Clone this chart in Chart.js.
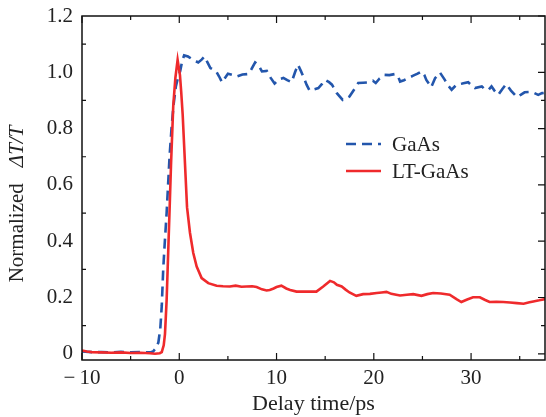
<!DOCTYPE html>
<html>
<head>
<meta charset="utf-8">
<script src="https://cdn.jsdelivr.net/npm/chart.js@4/dist/chart.umd.min.js"></script>
<style>
  body { margin: 0; background: #fff; }
</style>
</head>
<body>
<canvas id="c" width="546" height="417"></canvas>
<script>
// GaAs (dashed blue)
const gaasX = [-10, -9, -8, -7, -6, -5, -4, -3, -2.7, -2.4, -2.15, -1.95, -1.8, -1.65, -1.5, -1.3, -1.15, -1.0, -0.8, -0.6, -0.35, -0.1, 0.1, 0.3, 0.5, 0.9, 1.4, 1.95, 2.3, 2.6, 2.9, 3.2, 3.8, 4.1, 4.4, 4.7, 5.0, 5.5, 5.9, 6.5, 7.1, 7.4, 7.8, 8.1, 8.5, 9.0, 9.4, 9.8, 10.3, 10.7, 11.1, 11.55, 11.9, 12.2, 12.5, 12.75, 13.1, 13.4, 13.9, 14.3, 14.7, 15.0, 15.4, 15.7, 16.2, 16.8, 17.2, 17.5, 18.0, 18.4, 18.9, 19.3, 19.9, 20.2, 20.6, 21.1, 21.6, 22.2, 22.5, 22.7, 23.1, 23.5, 24.05, 24.5, 24.9, 25.2, 25.4, 25.9, 26.3, 26.8, 27.3, 27.6, 28.0, 28.5, 29.1, 29.7, 30.0, 30.4, 31.1, 31.4, 31.8, 32.1, 32.4, 32.8, 33.2, 33.6, 34.1, 34.7, 35.1, 35.5, 36.0, 36.4, 36.9, 37.3, 37.8];
const gaasY = [0.008, 0.006, 0.006, 0.005, 0.007, 0.005, 0.006, 0.005, 0.008, 0.02, 0.04, 0.09, 0.17, 0.30, 0.39, 0.50, 0.60, 0.70, 0.80, 0.88, 0.95, 0.985, 1.005, 1.04, 1.06, 1.056, 1.045, 1.035, 1.045, 1.056, 1.035, 1.015, 1.003, 0.985, 0.964, 0.98, 0.995, 0.99, 0.985, 0.992, 0.994, 1.01, 1.035, 1.028, 1.003, 1.005, 0.98, 0.96, 0.976, 0.98, 0.972, 0.965, 1.0, 1.027, 1.005, 0.985, 0.955, 0.935, 0.94, 0.944, 0.96, 0.973, 0.965, 0.956, 0.926, 0.902, 0.908, 0.914, 0.94, 0.962, 0.963, 0.964, 0.970, 0.962, 0.978, 0.991, 0.99, 0.994, 0.985, 0.967, 0.972, 0.979, 0.988, 0.995, 1.003, 0.99, 0.973, 0.947, 0.979, 0.999, 0.973, 0.955, 0.938, 0.956, 0.96, 0.965, 0.955, 0.944, 0.950, 0.94, 0.938, 0.950, 0.935, 0.920, 0.94, 0.958, 0.935, 0.912, 0.92, 0.929, 0.93, 0.928, 0.920, 0.926, 0.928];

// LT-GaAs (solid red)
const ltX = [-10, -9.5, -9, -8, -7, -6, -5, -4, -3, -2.5, -2.0, -1.8, -1.6, -1.47, -1.3, -1.13, -0.96, -0.85, -0.62, -0.4, -0.17, 0.07, 0.2, 0.35, 0.5, 0.65, 0.8, 1.1, 1.44, 1.79, 2.3, 2.98, 3.84, 4.5, 5.2, 5.8, 6.4, 6.9, 7.5, 7.95, 8.5, 8.98, 9.3, 9.7, 10.0, 10.5, 11.0, 11.4, 12.06, 13.0, 14.1, 14.8, 15.5, 15.9, 16.2, 16.7, 17.1, 17.5, 18.2, 18.9, 19.6, 20.3, 20.8, 21.3, 21.8, 22.3, 22.7, 23.4, 24.05, 24.9, 25.5, 26.1, 26.9, 27.8, 28.5, 29.0, 29.6, 30.2, 30.9, 31.4, 31.9, 32.6, 33.3, 34.0, 34.7, 35.4, 36.0, 36.4, 37.0, 37.8];
const ltY = [0.012, 0.008, 0.006, 0.005, 0.004, 0.005, 0.003, 0.004, 0.002, 0.0, 0.002, 0.006, 0.03, 0.07, 0.19, 0.37, 0.55, 0.67, 0.88, 0.98, 1.044, 0.99, 0.93, 0.85, 0.74, 0.63, 0.52, 0.43, 0.358, 0.31, 0.269, 0.251, 0.242, 0.240, 0.239, 0.242, 0.238, 0.239, 0.240, 0.237, 0.229, 0.225, 0.227, 0.232, 0.237, 0.242, 0.232, 0.227, 0.221, 0.221, 0.221, 0.239, 0.259, 0.254, 0.245, 0.239, 0.228, 0.218, 0.206, 0.212, 0.213, 0.216, 0.218, 0.220, 0.213, 0.21, 0.207, 0.21, 0.212, 0.206, 0.212, 0.216, 0.214, 0.21, 0.194, 0.184, 0.193, 0.201, 0.201, 0.192, 0.184, 0.185, 0.184, 0.182, 0.18, 0.178, 0.183, 0.186, 0.19, 0.196];

const xTicks = [-10, 0, 10, 20, 30];
const xMinor = [-5, 5, 15, 25, 35];
const yTicks = [0, 0.2, 0.4, 0.6, 0.8, 1.0, 1.2];
const yMinor = [0.1, 0.3, 0.5, 0.7, 0.9, 1.1];

const seriesNames = ['GaAs', 'LT-GaAs'];
const BLUE = '#2356ac';
const RED = '#ef2a2c';
const FONT = "'Liberation Serif', 'DejaVu Serif', serif";

const toPts = (xs, ys) => xs.map((x, i) => ({ x: x, y: ys[i] }));

// frame, inward ticks, y title and legend
const framePlugin = {
  id: 'frame',
  afterDraw(chart) {
    const { ctx, chartArea: a, scales } = chart;
    const xs = scales.x, ys = scales.y;
    ctx.save();
    ctx.strokeStyle = '#111';
    ctx.lineWidth = 1.5;
    ctx.strokeRect(a.left, a.top, a.right - a.left, a.bottom - a.top);

    ctx.lineWidth = 1.2;
    ctx.beginPath();
    xTicks.forEach(v => {
      const p = xs.getPixelForValue(v);
      ctx.moveTo(p, a.bottom); ctx.lineTo(p, a.bottom - 7);
      ctx.moveTo(p, a.top); ctx.lineTo(p, a.top + 7);
    });
    xMinor.forEach(v => {
      const p = xs.getPixelForValue(v);
      ctx.moveTo(p, a.bottom); ctx.lineTo(p, a.bottom - 4);
      ctx.moveTo(p, a.top); ctx.lineTo(p, a.top + 4);
    });
    yTicks.forEach(v => {
      const p = ys.getPixelForValue(v);
      ctx.moveTo(a.right, p); ctx.lineTo(a.right - 7, p);
    });
    yMinor.forEach(v => {
      const p = ys.getPixelForValue(v);
      ctx.moveTo(a.right, p); ctx.lineTo(a.right - 4, p);
      ctx.moveTo(a.left, p); ctx.lineTo(a.left + 4, p);
    });
    ctx.stroke();

    // y axis title: "Normalized  ΔT/T"
    ctx.fillStyle = '#222';
    ctx.textBaseline = 'middle';
    ctx.textAlign = 'left';
    const f1 = '21px ' + FONT, f2 = 'italic 21px ' + FONT;
    ctx.font = f1;
    const w1 = ctx.measureText('Normalized').width;
    ctx.font = f2;
    const w2 = ctx.measureText('\u0394T/T').width;
    const gap = 16;
    const total = w1 + gap + w2;
    ctx.translate(17, 204);
    ctx.rotate(-Math.PI / 2);
    ctx.font = f1;
    ctx.fillText('Normalized', -total / 2, 0);
    ctx.font = f2;
    ctx.fillText('\u0394T/T', -total / 2 + w1 + gap, 0);
    ctx.setTransform(1, 0, 0, 1, 0, 0);

    // legend
    const rows = [[chart.data.datasets[1], 144], [chart.data.datasets[0], 171]];
    rows.forEach(([ds, y]) => {
      ctx.strokeStyle = ds.borderColor;
      ctx.lineWidth = 2.6;
      ctx.setLineDash(ds.borderDash || []);
      ctx.beginPath();
      ctx.moveTo(346, y); ctx.lineTo(381, y);
      ctx.stroke();
      ctx.setLineDash([]);
      ctx.fillStyle = '#222';
      ctx.font = '21px ' + FONT;
      ctx.fillText(ds.label, 392, y + 1);
    });
    ctx.restore();
  }
};

new Chart(document.getElementById('c').getContext('2d'), {
  type: 'line',
  data: {
    datasets: [
      {
        label: seriesNames[1],
        data: toPts(ltX, ltY),
        borderColor: RED,
        borderWidth: 2.6,
        pointRadius: 0,
        tension: 0,
        order: 0
      },
      {
        label: seriesNames[0],
        data: toPts(gaasX, gaasY),
        borderColor: BLUE,
        borderWidth: 2.6,
        borderDash: [10, 6],
        pointRadius: 0,
        tension: 0,
        order: 1
      }
    ]
  },
  options: {
    responsive: false,
    animation: false,
    devicePixelRatio: 1,
    layout: { padding: { top: 16, right: 1, left: 0, bottom: 0 } },
    plugins: { legend: { display: false }, tooltip: { enabled: false } },
    scales: {
      x: {
        type: 'linear',
        min: -10,
        max: 37.6,
        afterBuildTicks: s => { s.ticks = xTicks.map(v => ({ value: v })); },
        afterFit: s => { s.height = 57; s.paddingLeft = 0; s.paddingRight = 0; },
        grid: { display: false, drawTicks: false },
        border: { display: false },
        ticks: {
          padding: 6,
          color: '#222',
          font: { family: FONT, size: 21 },
          maxRotation: 0,
          callback: v => String(v).replace('-', '\u2212\u2009')
        },
        title: {
          display: true,
          text: 'Delay time/ps',
          color: '#222',
          font: { family: FONT, size: 22 },
          padding: { top: 4, bottom: 0 }
        }
      },
      y: {
        type: 'linear',
        min: -0.022,
        max: 1.2,
        afterBuildTicks: s => { s.ticks = yTicks.map(v => ({ value: v })); },
        afterFit: s => { s.width = 82; s.paddingTop = 0; s.paddingBottom = 0; },
        grid: { display: false, drawTicks: false },
        border: { display: false },
        ticks: {
          padding: 9,
          color: '#222',
          font: { family: FONT, size: 21 },
          callback: v => (v === 0 ? '0' : Number(v).toFixed(1))
        }
      }
    }
  },
  plugins: [framePlugin]
});
</script>
</body>
</html>
